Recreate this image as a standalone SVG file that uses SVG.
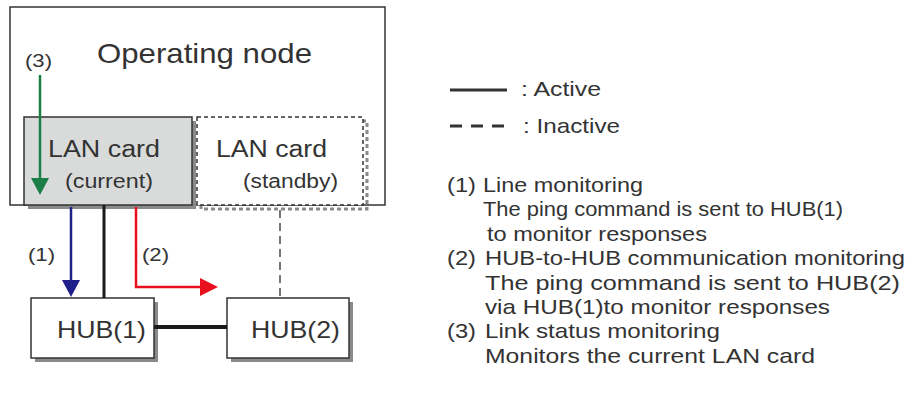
<svg xmlns="http://www.w3.org/2000/svg" width="908" height="394" viewBox="0 0 908 394">
<style>
text{font-family:"Liberation Sans",Arial,sans-serif;fill:#333}
.box{fill:#fff;stroke:#333;stroke-width:1.5}
.sh{fill:#8a8a8a}
.dash{fill:#fff;stroke:#333;stroke-width:1.5;stroke-dasharray:4 3}
.t19{font-size:19px}
.t21{font-size:21px}
</style>
<rect width="908" height="394" fill="#fff"/>
<g id="operating-node">
<rect class="box" x="10" y="7" width="375" height="198"/>
<text x="97" y="63" font-size="28" textLength="215" lengthAdjust="spacingAndGlyphs">Operating node</text>
</g>
<g id="lan-current">
<rect class="sh" x="28" y="121" width="168" height="88"/>
<rect x="24" y="117" width="168" height="88" fill="#d9dbdb" stroke="#333" stroke-width="1.5"/>
<text x="48" y="157" font-size="23" textLength="112" lengthAdjust="spacingAndGlyphs">LAN card</text>
<text x="65" y="188" font-size="20" textLength="88" lengthAdjust="spacingAndGlyphs">(current)</text>
</g>
<g id="lan-standby">
<rect x="201" y="121" width="166" height="88" fill="none" stroke="#8a8a8a" stroke-width="3" stroke-dasharray="4 3"/>
<rect class="dash" x="197" y="117" width="166" height="88"/>
<text x="216" y="157" font-size="23" textLength="111" lengthAdjust="spacingAndGlyphs">LAN card</text>
<text x="243" y="188" font-size="20" textLength="95" lengthAdjust="spacingAndGlyphs">(standby)</text>
</g>
<g id="hub1">
<rect class="sh" x="35" y="302" width="123" height="60"/>
<rect class="box" x="31" y="298" width="123" height="60"/>
<text x="57" y="338" font-size="24" textLength="89" lengthAdjust="spacingAndGlyphs">HUB(1)</text>
</g>
<g id="hub2">
<rect class="sh" x="231" y="302" width="122" height="60"/>
<rect class="box" x="227" y="298" width="122" height="60"/>
<text x="251" y="338" font-size="24" textLength="89" lengthAdjust="spacingAndGlyphs">HUB(2)</text>
</g>
<g id="connectors">
<line x1="104" y1="205" x2="104" y2="298" stroke="#1a1a1a" stroke-width="3"/>
<line x1="154" y1="327" x2="227" y2="327" stroke="#1a1a1a" stroke-width="4"/>
<line x1="280" y1="210" x2="280" y2="298" stroke="#777" stroke-width="2" stroke-dasharray="8 5"/>
<line x1="40" y1="75" x2="40" y2="180" stroke="#1b7f45" stroke-width="2.5"/>
<path d="M31,178L49,178L40,195z" fill="#1b7f45"/>
<line x1="71" y1="207" x2="71" y2="282" stroke="#1f1f8a" stroke-width="2.5"/>
<path d="M62,280L80,280L71,297z" fill="#1f1f8a"/>
<polyline points="136,207 136,287 202,287" fill="none" stroke="#e8101c" stroke-width="2.5"/>
<path d="M200,278L218,287L200,296z" fill="#e8101c"/>
<text class="t19" x="25" y="67" textLength="27" lengthAdjust="spacingAndGlyphs">(3)</text>
<text class="t19" x="28" y="261" textLength="27" lengthAdjust="spacingAndGlyphs">(1)</text>
<text class="t19" x="142" y="261" textLength="27" lengthAdjust="spacingAndGlyphs">(2)</text>
</g>
<g id="legend">
<line x1="450" y1="90" x2="507" y2="90" stroke="#333" stroke-width="3"/>
<text x="521" y="96" font-size="21" textLength="80" lengthAdjust="spacingAndGlyphs">: Active</text>
<line x1="450" y1="126" x2="507" y2="126" stroke="#333" stroke-width="3" stroke-dasharray="12 9"/>
<text x="523" y="133" font-size="21" textLength="97" lengthAdjust="spacingAndGlyphs">: Inactive</text>
</g>
<g id="notes">
<text class="t21" x="447" y="192" textLength="29" lengthAdjust="spacingAndGlyphs">(1)</text>
<text class="t21" x="483" y="192" textLength="160" lengthAdjust="spacingAndGlyphs">Line monitoring</text>
<text class="t21" x="483" y="216.4" textLength="360" lengthAdjust="spacingAndGlyphs">The ping command is sent to HUB(1)</text>
<text class="t21" x="487" y="240.8" textLength="220" lengthAdjust="spacingAndGlyphs">to monitor responses</text>
<text class="t21" x="447" y="265.2" textLength="29" lengthAdjust="spacingAndGlyphs">(2)</text>
<text class="t21" x="485" y="265.2" textLength="420" lengthAdjust="spacingAndGlyphs">HUB-to-HUB communication monitoring</text>
<text class="t21" x="485" y="289.6" textLength="415" lengthAdjust="spacingAndGlyphs">The ping command is sent to HUB(2)</text>
<text class="t21" x="485" y="314" textLength="345" lengthAdjust="spacingAndGlyphs">via HUB(1)to monitor responses</text>
<text class="t21" x="447" y="338.4" textLength="29" lengthAdjust="spacingAndGlyphs">(3)</text>
<text class="t21" x="485" y="338.4" textLength="235" lengthAdjust="spacingAndGlyphs">Link status monitoring</text>
<text class="t21" x="485" y="362.8" textLength="330" lengthAdjust="spacingAndGlyphs">Monitors the current LAN card</text>
</g>
</svg>
